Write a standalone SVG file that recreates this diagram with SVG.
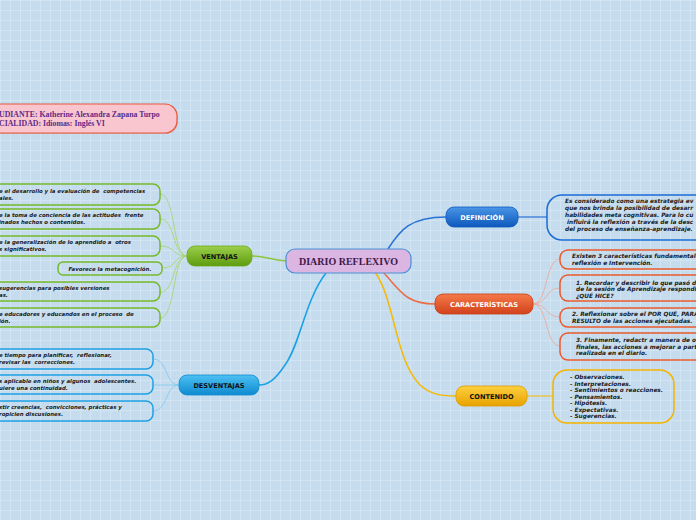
<svg xmlns="http://www.w3.org/2000/svg" width="696" height="520" viewBox="0 0 696 520">
<defs>
<pattern id="grid" width="10" height="10" patternUnits="userSpaceOnUse">
<rect width="10" height="10" fill="#c5dcee"/>
<path d="M0,0.5H10M0.5,0V10" stroke="#d3e5f3" stroke-width="1" fill="none"/>
</pattern>
<linearGradient id="gGreen" x1="0" y1="0" x2="0" y2="1"><stop offset="0" stop-color="#9ccf4a"/><stop offset="1" stop-color="#5e9c10"/></linearGradient>
<linearGradient id="gBlue" x1="0" y1="0" x2="0" y2="1"><stop offset="0" stop-color="#4a96e6"/><stop offset="1" stop-color="#0d58bc"/></linearGradient>
<linearGradient id="gRed" x1="0" y1="0" x2="0" y2="1"><stop offset="0" stop-color="#f47a48"/><stop offset="1" stop-color="#d2421c"/></linearGradient>
<linearGradient id="gYel" x1="0" y1="0" x2="0" y2="1"><stop offset="0" stop-color="#fdd040"/><stop offset="1" stop-color="#e8a200"/></linearGradient>
<linearGradient id="gCyan" x1="0" y1="0" x2="0" y2="1"><stop offset="0" stop-color="#4cc0f2"/><stop offset="1" stop-color="#0e8ad0"/></linearGradient>
</defs>
<style>
text{white-space:pre}
.lbl{font-family:"DejaVu Sans","Liberation Sans",sans-serif;font-weight:bold;font-size:6.6px;text-anchor:middle}
.txt{font-family:"DejaVu Sans","Liberation Sans",sans-serif;font-weight:bold;font-style:italic;font-size:5.4px;fill:#1a1a1a}
.rtxt{font-family:"DejaVu Sans","Liberation Sans",sans-serif;font-weight:bold;font-style:italic;font-size:5.8px;fill:#1a1a1a}
.gbox{fill:none;stroke:#76b82a;stroke-width:1.5}
.bbox{fill:none;stroke:#1ea0e6;stroke-width:1.5}
.obox{fill:none;stroke:#ec5a2c;stroke-width:1.5}
.con{fill:none}
</style>
<rect width="696" height="520" fill="url(#grid)"/>

<g id="connectors" class="con">
<path d="M286,261 C270,260 266,256 252,256" stroke="#8cc63f" stroke-width="1.5"/>
<path d="M388,249 C400,230 410,217 446,217" stroke="#2a72d6" stroke-width="1.6"/>
<path d="M518,217 H547" stroke="#2a72d6" stroke-width="1.2"/>
<path d="M383,272 C400,290 405,304 435,304" stroke="#ec6a44" stroke-width="1.5"/>
<path d="M375,272 C395,300 395,360 420,385 C430,394 440,396 456,396" stroke="#f7b800" stroke-width="1.5"/>
<path d="M527,396 H553" stroke="#f7b800" stroke-width="1"/>
<path d="M326,273 C305,300 300,345 285,365 C275,380 268,385 259,385" stroke="#1aa2e4" stroke-width="1.6"/>
<g stroke="#a6d46a" stroke-width="0.8">
<path d="M187,256 C172,256 176,194 160,194"/>
<path d="M187,256 C172,256 176,219 160,219"/>
<path d="M187,256 C172,256 176,246 160,246"/>
<path d="M187,256 C172,256 178,268 162,268"/>
<path d="M187,256 C172,256 176,292 160,292"/>
<path d="M187,256 C172,256 176,318 160,318"/>
</g>
<g stroke="#7cc8f0" stroke-width="0.8">
<path d="M179,385 C165,385 168,359 153,359"/>
<path d="M179,385 H153"/>
<path d="M179,385 C165,385 168,411 153,411"/>
</g>
<g stroke="#f2a490" stroke-width="0.8">
<path d="M533,304 C548,304 545,259 560,259"/>
<path d="M533,304 C548,304 545,288 560,288"/>
<path d="M533,304 C548,304 545,317 560,317"/>
<path d="M533,304 C548,304 545,346 560,346"/>
</g>
</g>

<g id="student">
<rect x="-20" y="105" width="198" height="29" rx="12" fill="#e58a7a" opacity="0.5"/>
<rect x="-20" y="104" width="197" height="29" rx="12" fill="#f9c6d0" stroke="#e6583a" stroke-width="1.2"/>
<text x="-1" y="117" font-family="Liberation Serif,serif" font-weight="bold" font-size="7.8" fill="#5e2a88">UDIANTE: Katherine Alexandra Zapana Turpo</text>
<text x="-1" y="126" font-family="Liberation Serif,serif" font-weight="bold" font-size="7.8" fill="#5e2a88">CIALIDAD: Idiomas: Inglés VI</text>
</g>

<g id="center">
<rect x="286" y="249" width="125" height="24" rx="9" fill="#dbb6e2" stroke="#4a8fd4" stroke-width="1.2"/>
<text x="348.5" y="265" text-anchor="middle" font-family="Liberation Serif,serif" font-weight="bold" font-size="10" fill="#3e1848">DIARIO REFLEXIVO</text>
</g>

<g id="ventajas">
<rect x="187" y="246" width="65" height="20" rx="8" fill="url(#gGreen)" stroke="#6aa81c" stroke-width="0.8"/>
<text class="lbl" x="219.5" y="258.5" fill="#111">VENTAJAS</text>
</g>
<g id="v1"><rect class="gbox" x="-20" y="184" width="180" height="21" rx="7"/>
<text class="txt" x="-1" y="193">e el desarrollo y la evaluación de  competencias</text>
<text class="txt" x="-1" y="200">ales.</text></g>
<g id="v2"><rect class="gbox" x="-20" y="209" width="180" height="20" rx="7"/>
<text class="txt" x="-1" y="217">e la toma de conciencia de las actitudes  frente</text>
<text class="txt" x="-1" y="224">inados hechos o contenidos.</text></g>
<g id="v3"><rect class="gbox" x="-20" y="236" width="180" height="20" rx="7"/>
<text class="txt" x="-1" y="244">e la generalización de lo aprendido a  otros</text>
<text class="txt" x="-1" y="251">s significativos.</text></g>
<g id="v4"><rect class="gbox" x="58" y="262" width="104" height="13" rx="5"/>
<text class="txt" x="110" y="270.5" text-anchor="middle">Favorece la metacognición.</text></g>
<g id="v5"><rect class="gbox" x="-20" y="282" width="180" height="19" rx="7"/>
<text class="txt" x="-1" y="290">sugerencias para posibles versiones</text>
<text class="txt" x="-1" y="297">as.</text></g>
<g id="v6"><rect class="gbox" x="-20" y="308" width="180" height="19" rx="7"/>
<text class="txt" x="-1" y="316">e educadores y educandos en el proceso  de</text>
<text class="txt" x="-1" y="323">ión.</text></g>

<g id="desventajas">
<rect x="179" y="375" width="80" height="20" rx="8" fill="url(#gCyan)" stroke="#0f8ad0" stroke-width="0.8"/>
<text class="lbl" x="219" y="387.5" fill="#111">DESVENTAJAS</text>
</g>
<g id="d1"><rect class="bbox" x="-20" y="349" width="173" height="20" rx="7"/>
<text class="txt" x="-1" y="357">e tiempo para planificar,  reflexionar,</text>
<text class="txt" x="-1" y="364">revisar las  correcciones.</text></g>
<g id="d2"><rect class="bbox" x="-20" y="375" width="173" height="19" rx="7"/>
<text class="txt" x="-1" y="383">s aplicable en niños y algunos  adolescentes.</text>
<text class="txt" x="-1" y="390">uiere una continuidad.</text></g>
<g id="d3"><rect class="bbox" x="-20" y="401" width="173" height="20" rx="7"/>
<text class="txt" x="-1" y="409">stir creencias,  convicciones, prácticas y</text>
<text class="txt" x="-1" y="416">ropicien discusiones.</text></g>

<g id="definicion">
<rect x="446" y="207" width="72" height="20" rx="8" fill="url(#gBlue)" stroke="#0d58bc" stroke-width="0.8"/>
<text class="lbl" x="482" y="219.5" fill="#fff">DEFINICIÓN</text>
</g>
<g id="def-text"><rect x="547" y="195" width="200" height="45" rx="15" fill="none" stroke="#1a6bd6" stroke-width="1.5"/>
<text class="rtxt" x="565" y="203">Es considerado como una estrategia ev</text>
<text class="rtxt" x="565" y="210">que nos brinda la posibilidad de desarr</text>
<text class="rtxt" x="565" y="217">habilidades meta cognitivas. Para lo cu</text>
<text class="rtxt" x="565" y="224"> influirá la reflexión a través de la desc</text>
<text class="rtxt" x="565" y="231">del proceso de enseñanza-aprendizaje.</text></g>

<g id="caracteristicas">
<rect x="435" y="294" width="98" height="20" rx="8" fill="url(#gRed)" stroke="#c83c18" stroke-width="0.8"/>
<text class="lbl" x="484" y="306.5" fill="#fff">CARACTERÍSTICAS</text>
</g>
<g id="c1"><rect class="obox" x="560" y="250" width="160" height="19" rx="8"/>
<text class="rtxt" x="572" y="258">Existen 3 características fundamentales</text>
<text class="rtxt" x="572" y="264.5">reflexión e Intervención.</text></g>
<g id="c2"><rect class="obox" x="560" y="275" width="160" height="26" rx="8"/>
<text class="rtxt" x="576" y="284.5">1. Recordar y describir lo que pasó dur</text>
<text class="rtxt" x="576" y="291">de la sesión de Aprendizaje respondien</text>
<text class="rtxt" x="576" y="297.5">¿QUÉ HICE?</text></g>
<g id="c3"><rect class="obox" x="560" y="308" width="160" height="19" rx="8"/>
<text class="rtxt" x="572" y="316">2. Reflexionar sobre el POR QUÉ, PARA</text>
<text class="rtxt" x="572" y="322.5">RESULTÓ de las acciones ejecutadas.</text></g>
<g id="c4"><rect class="obox" x="560" y="333" width="160" height="27" rx="8"/>
<text class="rtxt" x="576" y="342">3. Finamente, redactr a manera de obs</text>
<text class="rtxt" x="576" y="348.5">finales, las acciones a mejorar a partir</text>
<text class="rtxt" x="576" y="355">realizada en el diario.</text></g>

<g id="contenido">
<rect x="456" y="386" width="71" height="20" rx="8" fill="url(#gYel)" stroke="#e09a00" stroke-width="0.8"/>
<text class="lbl" x="491.5" y="398.5" fill="#111">CONTENIDO</text>
</g>
<g id="cont-text"><rect x="553" y="370" width="121" height="53" rx="14" fill="none" stroke="#f5b400" stroke-width="1.5"/>
<text class="rtxt" x="570" y="379">- Observaciones.</text>
<text class="rtxt" x="570" y="385.5">- Interpretaciones.</text>
<text class="rtxt" x="570" y="392">- Sentimientos o reacciones.</text>
<text class="rtxt" x="570" y="398.5">- Pensamientos.</text>
<text class="rtxt" x="570" y="405">- Hipótesis.</text>
<text class="rtxt" x="570" y="411.5">- Expectativas.</text>
<text class="rtxt" x="570" y="418">- Sugerencias.</text></g>
</svg>
